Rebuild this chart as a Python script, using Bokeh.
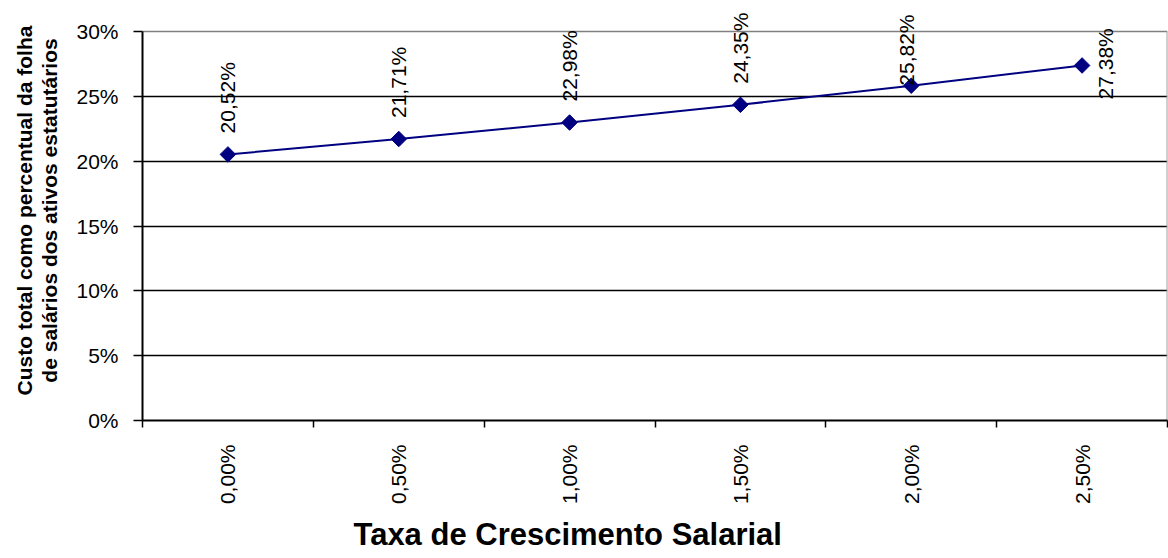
import math
from bokeh.plotting import figure
from bokeh.models import Range1d, FixedTicker, NumeralTickFormatter, ColumnDataSource, Grid, Title
from bokeh.embed import file_html
from bokeh.resources import INLINE
from bokeh.core.properties import value

# ---- data ----
categories = ["0,00%", "0,50%", "1,00%", "1,50%", "2,00%", "2,50%"]
custo = [0.2052, 0.2171, 0.2298, 0.2435, 0.2582, 0.2738]
y_ticks = [0.0, 0.05, 0.10, 0.15, 0.20, 0.25, 0.30]

# ---- label placement style (screen pixels, +y = down) ----
label_dx = [0, 0, 0, 0, -5, 23]
label_dy = [-21, -21, -21, -21, 0, 34]

xs = [i + 0.5 for i in range(len(categories))]
labels = [("%.2f" % (v * 100)).replace(".", ",") + "%" for v in custo]

src = ColumnDataSource(dict(x=xs, y=custo, lab=labels, dx=label_dx, dy=label_dy))

FONT = "Liberation Sans"

# layout constants (pixels)
W, H = 1168, 558
LEFT, RIGHT_PAD, BOTTOM = 142, 1, 138
PLOT_H_30 = 389          # pixel height of the 0..30% band
FRAME_H = H - BOTTOM     # frame reaches to the very top so labels are not clipped
y_max = y_ticks[-1] * FRAME_H / PLOT_H_30

p = figure(width=W, height=H, output_backend="svg", toolbar_location=None,
           x_range=Range1d(0, len(categories)), y_range=Range1d(y_ticks[0], y_max),
           min_border_left=LEFT, min_border_right=RIGHT_PAD, min_border_top=0,
           min_border_bottom=BOTTOM)
p.background_fill_color = "white"
p.border_fill_color = "white"
p.outline_line_color = None

# grid
p.xgrid.grid_line_color = None
p.ygrid.ticker = FixedTicker(ticks=y_ticks[1:-1])
p.ygrid.grid_line_color = "black"
p.ygrid.grid_line_width = 1.5
top_grid = Grid(dimension=1, ticker=FixedTicker(ticks=[y_ticks[-1]]),
                grid_line_color="#808080", grid_line_width=1.5)
p.add_layout(top_grid)

# right border (gray)
p.segment(x0=[len(categories)], y0=[y_ticks[0]], x1=[len(categories)], y1=[y_ticks[-1]],
          line_color="#a0a0a0", line_width=2)

# y axis
p.yaxis.ticker = FixedTicker(ticks=y_ticks)
p.yaxis.bounds = (y_ticks[0], y_ticks[-1])
p.yaxis.formatter = NumeralTickFormatter(format="0%")
p.yaxis.major_tick_out = 9
p.yaxis.major_tick_in = 0
p.yaxis.minor_tick_line_color = None
p.yaxis.major_tick_line_color = "black"
p.yaxis.major_tick_line_width = 1.5
p.yaxis.axis_line_color = "black"
p.yaxis.axis_line_width = 2
p.yaxis.major_label_text_font = FONT
p.yaxis.major_label_text_font_size = "21px"
p.yaxis.major_label_text_color = "black"
p.yaxis.major_label_standoff = 15
p.yaxis.axis_label = "Custo total como percentual da folha\nde salários dos ativos estatutários"
p.yaxis.axis_label_text_font = FONT
p.yaxis.axis_label_text_font_style = "bold"
p.yaxis.axis_label_text_font_size = "21px"
p.yaxis.axis_label_text_color = "black"
p.yaxis.axis_label_text_line_height = 1.1
p.yaxis.axis_label_standoff = 12

# x axis
p.xaxis.ticker = FixedTicker(ticks=xs, minor_ticks=list(range(len(categories) + 1)))
p.xaxis.major_label_overrides = {x: c for x, c in zip(xs, categories)}
p.xaxis.major_label_orientation = math.pi / 2
p.xaxis.major_tick_line_color = None
p.xaxis.major_tick_out = 7
p.xaxis.minor_tick_out = 7
p.xaxis.minor_tick_in = 0
p.xaxis.minor_tick_line_color = "black"
p.xaxis.minor_tick_line_width = 1.5
p.xaxis.axis_line_color = "black"
p.xaxis.axis_line_width = 2
p.xaxis.major_label_text_font = FONT
p.xaxis.major_label_text_font_size = "21px"
p.xaxis.major_label_text_color = "black"
p.xaxis.major_label_standoff = 17

# x axis title (shifted left like the original)
xtitle = Title(text="Taxa de Crescimento Salarial", align="left", offset=211,
               text_font=FONT, text_font_style="bold", text_font_size="31px",
               text_color="black", standoff=14)
p.add_layout(xtitle, "below")

# series
p.line("x", "y", source=src, line_color="#000080", line_width=2)
p.scatter("x", "y", source=src, marker="square", angle=math.pi / 4, size=11,
          fill_color="#000080", line_color="#000080")
p.text("x", "y", text="lab", source=src, angle=math.pi / 2,
       x_offset="dx", y_offset="dy",
       text_align="left", text_baseline="middle",
       text_font=value(FONT), text_font_size="21px", text_color="black")

open("out.html", "w").write(file_html(p, INLINE))
